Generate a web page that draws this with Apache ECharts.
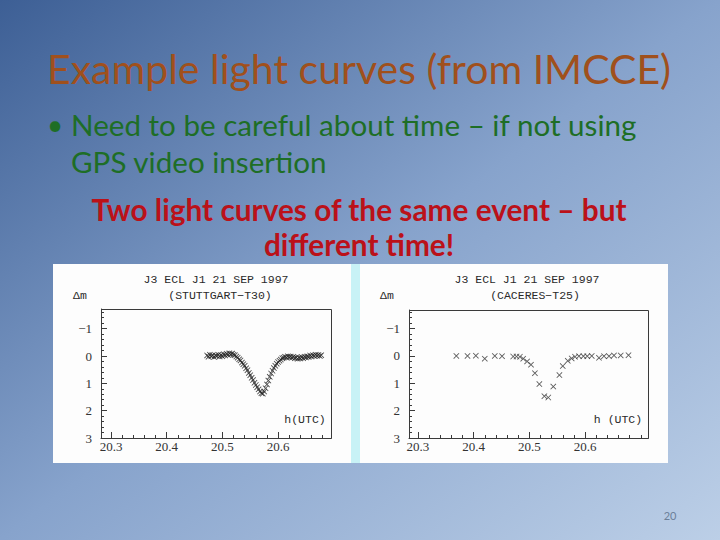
<!DOCTYPE html>
<html><head><meta charset="utf-8">
<script src="https://cdn.jsdelivr.net/npm/echarts@6.0.0/dist/echarts.min.js"></script>
<style>html,body{margin:0;padding:0;}#c{width:720px;height:540px;}</style>
</head><body><div id="c"></div>
<script>
// ---- data ----
const leftTimes = [20.4725,20.4750,20.4775,20.4800,20.4825,20.4850,20.4875,20.4900,20.4925,20.4950,20.4975,20.5000,20.5025,20.5050,20.5075,20.5100,20.5125,20.5150,20.5175,20.5200,20.5225,20.5250,20.5275,20.5300,20.5325,20.5350,20.5375,20.5400,20.5425,20.5450,20.5475,20.5500,20.5525,20.5550,20.5575,20.5600,20.5625,20.5650,20.5675,20.5700,20.5725,20.5750,20.5775,20.5800,20.5825,20.5850,20.5875,20.5900,20.5925,20.5950,20.5975,20.6000,20.6025,20.6050,20.6075,20.6100,20.6125,20.6150,20.6175,20.6200,20.6225,20.6250,20.6275,20.6300,20.6325,20.6350,20.6375,20.6400,20.6425,20.6450,20.6475,20.6500,20.6525,20.6550,20.6575,20.6600,20.6625,20.6650,20.6675,20.6700,20.6725,20.6750,20.6775];
const leftDm = [-0.02,0.03,-0.05,0.01,-0.03,0.04,-0.02,0.00,-0.05,0.02,-0.04,0.01,-0.06,-0.02,-0.08,-0.04,-0.10,-0.06,-0.09,-0.05,-0.03,0.02,0.06,0.12,0.16,0.24,0.30,0.36,0.45,0.52,0.62,0.70,0.80,0.88,0.98,1.06,1.14,1.22,1.30,1.36,1.38,1.30,1.18,1.04,0.90,0.76,0.64,0.54,0.44,0.36,0.28,0.22,0.17,0.13,0.08,0.06,0.03,0.05,0.01,0.04,0.02,0.06,0.03,0.08,0.05,0.10,0.06,0.09,0.04,0.08,0.03,0.05,0.01,0.04,-0.02,0.02,-0.03,0.00,-0.05,-0.01,-0.04,0.00,-0.03];
const rightTimes = [20.369,20.389,20.404,20.420,20.438,20.451,20.471,20.477,20.483,20.489,20.496,20.503,20.510,20.518,20.527,20.534,20.543,20.554,20.560,20.569,20.576,20.582,20.589,20.597,20.604,20.612,20.625,20.634,20.643,20.652,20.664,20.678];
const rightDm = [0.00,0.00,-0.01,0.10,0.00,0.01,0.02,0.02,0.03,0.10,0.20,0.32,0.63,1.03,1.47,1.52,1.12,0.70,0.37,0.18,0.09,0.03,0.01,0.01,0.01,0.00,0.07,0.01,0.01,-0.02,-0.02,-0.03];
const xMajorTicks = [20.3, 20.4, 20.5, 20.6];
const yMajorTicks = [-1, 0, 1, 2, 3];
const leftTitle = ['J3 ECL J1 21 SEP 1997', '(STUTTGART\u2212T30)'];
const rightTitle = ['J3 ECL J1 21 SEP 1997', '(CACERES\u2212T25)'];

// ---- helpers ----
function stepValues(a, b, s) { const out = []; for (let i = 0; ; i++) { const v = +(a + i * s).toFixed(4); if (v > b + 1e-9) break; out.push(v); } return out; }
const lineC = '#3a3a3a';
const XSYM = 'path://M0,1L1,0L5,4L9,0L10,1L6,5L10,9L9,10L5,6L1,10L0,9L4,5Z';
const W = 720, H = 540;
const G = [ { l: 101, r: 331, t: 309, b: 438 }, { l: 409, r: 648, t: 310, b: 438 } ];

function xAxes(grid, min, max) {
  const minor = stepValues(20.3, max, 0.02);
  return [
    { type: 'value', gridIndex: grid, min: min, max: max, position: 'bottom',
      axisLine: { show: true, onZero: false, lineStyle: { color: lineC, width: 1 } },
      axisTick: { show: true, inside: true, length: 6, customValues: xMajorTicks, lineStyle: { color: lineC } },
      axisLabel: { customValues: xMajorTicks, formatter: v => v.toFixed(1), fontFamily: 'Liberation Serif', fontSize: 13, color: '#333', margin: 2 },
      splitLine: { show: false } },
    { type: 'value', gridIndex: grid, min: min, max: max, position: 'bottom',
      axisLine: { show: false, onZero: false },
      axisTick: { show: true, inside: true, length: 3, customValues: minor, lineStyle: { color: lineC } },
      axisLabel: { show: false }, splitLine: { show: false } }
  ];
}
function yAxes(grid, min) {
  const minor = stepValues(-1.6, 3, 0.2).filter(v => v >= min);
  return [
    { type: 'value', gridIndex: grid, inverse: true, min: min, max: 3, position: 'left',
      axisLine: { show: true, onZero: false, lineStyle: { color: lineC, width: 1 } },
      axisTick: { show: true, inside: true, length: 6, customValues: yMajorTicks, lineStyle: { color: lineC } },
      axisLabel: { customValues: yMajorTicks, formatter: v => (v < 0 ? '\u2212' + Math.abs(v) : String(v)), fontFamily: 'Liberation Serif', fontSize: 13, color: '#333', margin: 9 },
      splitLine: { show: false } },
    { type: 'value', gridIndex: grid, inverse: true, min: min, max: 3, position: 'left',
      axisLine: { show: false, onZero: false },
      axisTick: { show: true, inside: true, length: 3, customValues: minor, lineStyle: { color: lineC } },
      axisLabel: { show: false }, splitLine: { show: false } }
  ];
}
function zip(a, b) { return a.map((t, i) => [t, b[i]]); }

const monoStyle = { fontFamily: 'Liberation Mono', fontSize: 11.5, fill: '#2a2a2a' };
function txt(x, y, s, align, style) {
  return { type: 'text', x: x, y: y, z: 10, style: Object.assign({ text: s, textAlign: align, textVerticalAlign: 'middle' }, style) };
}
function boxRect(g) {
  return { type: 'rect', z: 20, shape: { x: g.l + 0.5, y: g.t + 0.5, width: g.r - g.l, height: g.b - g.t }, style: { fill: 'none', stroke: lineC, lineWidth: 1 } };
}

const chart = echarts.init(document.getElementById('c'), null, { renderer: 'svg' });
chart.setOption({
  animation: false,
  backgroundColor: { type: 'linear', x: 0, y: 0, x2: 1, y2: 1, colorStops: [
    { offset: 0, color: '#3d5f95' }, { offset: 0.5, color: '#87a3cc' }, { offset: 1, color: '#bccfe7' } ] },
  graphic: [
    { type: 'rect', shape: { x: 53, y: 264, width: 298, height: 199 }, style: { fill: '#fdfdfd' }, z: -10 },
    { type: 'rect', shape: { x: 351, y: 264, width: 9, height: 199 }, style: { fill: '#c8f2f6' }, z: -10 },
    { type: 'rect', shape: { x: 360, y: 264, width: 308, height: 199 }, style: { fill: '#fdfdfd' }, z: -10 },
    boxRect(G[0]), boxRect(G[1]),
    txt(359, 68, 'Example light curves (from IMCCE)', 'center', { fontFamily: 'Lato', fontSize: 41, fill: '#a0501c' }),
    txt(47, 124, '\u2022', 'left', { fontFamily: 'Lato', fontSize: 28, fill: '#1e6e26' }),
    txt(71, 124, 'Need to be careful about time \u2013 if not using', 'left', { fontFamily: 'Lato', fontSize: 29.6, fill: '#1e6e26' }),
    txt(71, 161, 'GPS video insertion', 'left', { fontFamily: 'Lato', fontSize: 29.6, fill: '#1e6e26' }),
    txt(359, 209, 'Two light curves of the same event \u2013 but', 'center', { fontFamily: 'Lato', fontSize: 29.8, fontWeight: 'bold', fill: '#bb1119' }),
    txt(359, 244, 'different time!', 'center', { fontFamily: 'Lato', fontSize: 29.8, fontWeight: 'bold', fill: '#bb1119' }),
    txt(670, 515, '20', 'center', { fontFamily: 'Lato', fontSize: 11, fill: '#6b7f99' }),
    txt(216, 279, leftTitle[0], 'center', monoStyle),
    txt(220, 295, leftTitle[1], 'center', monoStyle),
    txt(73, 295, '\u0394m', 'left', monoStyle),
    txt(305, 419, 'h(UTC)', 'center', monoStyle),
    txt(527, 279, rightTitle[0], 'center', monoStyle),
    txt(535, 295, rightTitle[1], 'center', monoStyle),
    txt(380, 295, '\u0394m', 'left', monoStyle),
    txt(618, 419, 'h (UTC)', 'center', monoStyle)
  ],
  grid: G.map(g => ({ left: g.l, right: W - g.r, top: g.t, bottom: H - g.b })),
  xAxis: [].concat(xAxes(0, 20.282, 20.695), xAxes(1, 20.284, 20.713)),
  yAxis: [].concat(yAxes(0, -1.72), yAxes(1, -1.68)),
  series: [
    { type: 'scatter', xAxisIndex: 0, yAxisIndex: 0, data: zip(leftTimes, leftDm), symbol: XSYM, symbolSize: 6, itemStyle: { color: '#222' }, silent: true },
    { type: 'scatter', xAxisIndex: 2, yAxisIndex: 2, data: zip(rightTimes, rightDm), symbol: XSYM, symbolSize: 6, itemStyle: { color: '#333' }, silent: true }
  ]
});
</script></body></html>
